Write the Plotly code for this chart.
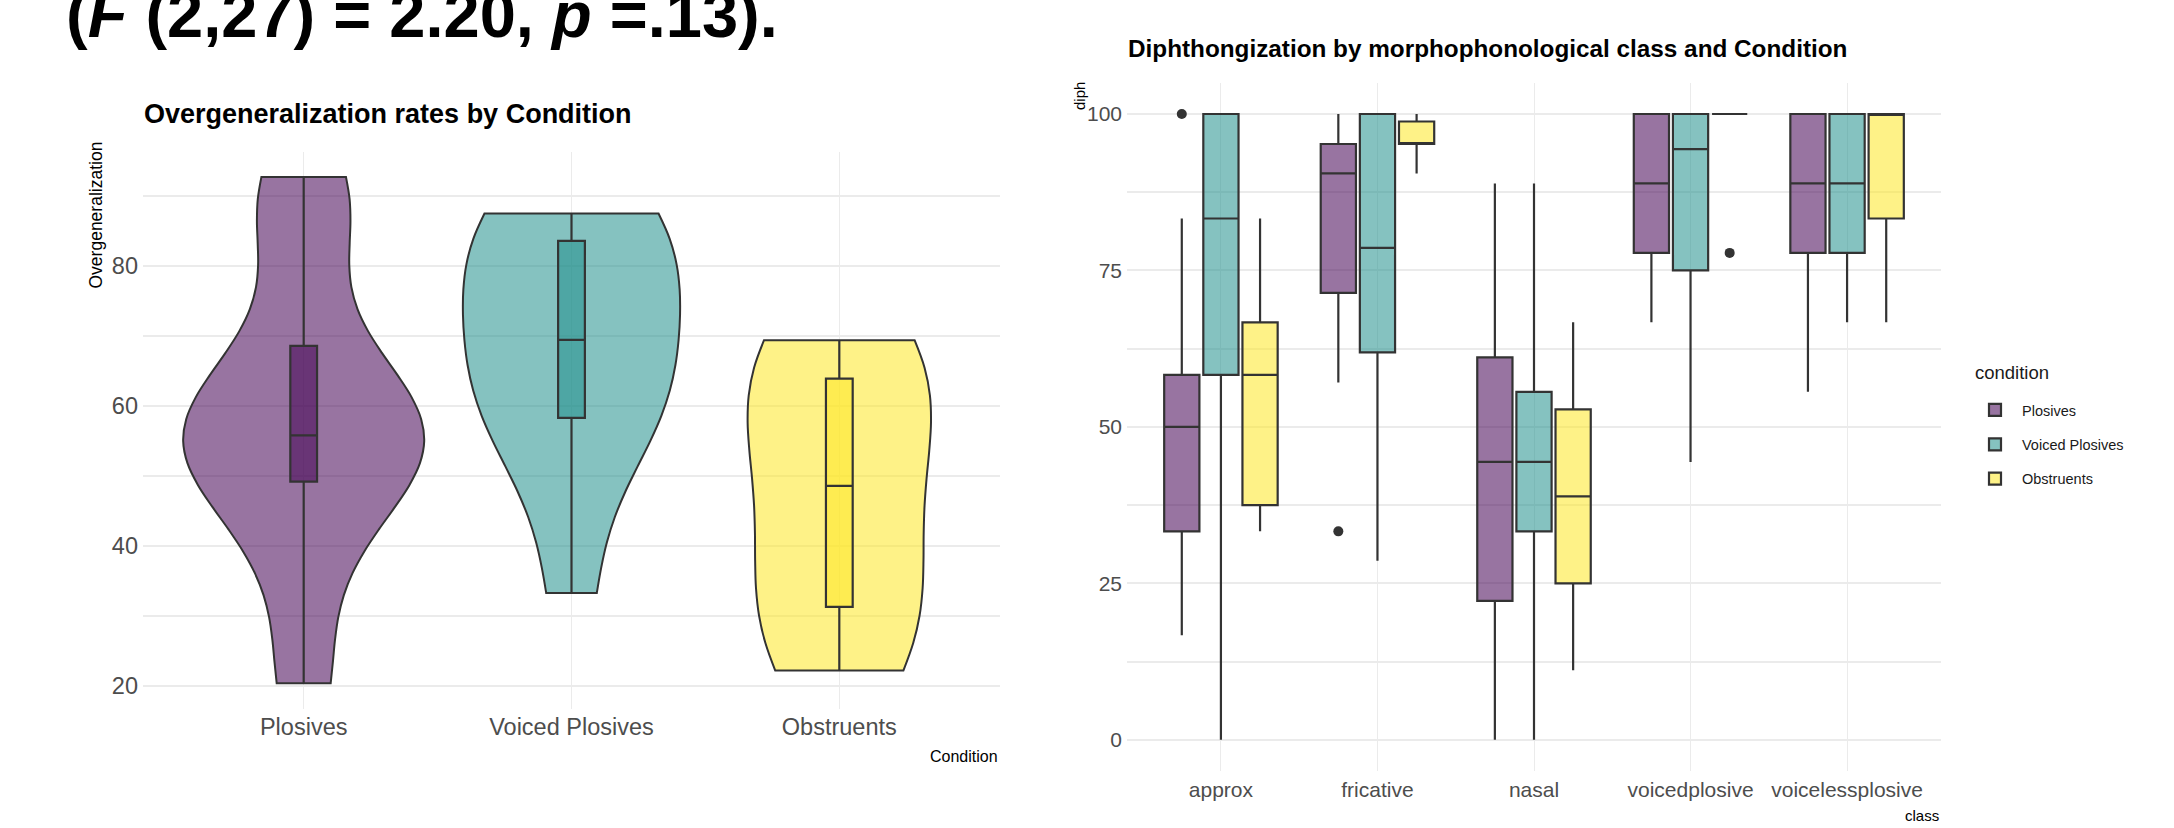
import numpy as np
import plotly.graph_objects as go

W, H = 2174, 828

# ---------------- data ----------------
heading_text = "(<i>F</i> (2,27) = 2.20, <i>p</i> =.13)."

# Left chart: overgeneralization (%) per participant, 10 per condition
conditions = ["Plosives", "Voiced Plosives", "Obstruents"]
overgen_plosives = [20.4, 38.9, 49.2, 52.8, 55.6, 56.0, 61.1, 68.6, 86.1, 92.7]
overgen_voiced = [33.3, 55.6, 58.3, 61.1, 66.7, 72.2, 80.6, 83.6, 86.1, 87.5]
overgen_obstruents = [22.2, 25.0, 31.3, 36.1, 44.4, 52.8, 58.3, 63.9, 68.1, 69.4]

# Right chart: diphthongization box statistics by class and condition
classes = ["approx", "fricative", "nasal", "voicedplosive", "voicelessplosive"]

plos_q1 = [33.3, 71.4, 22.2, 77.8, 77.8]
plos_med = [50.0, 90.5, 44.4, 88.9, 88.9]
plos_q3 = [58.3, 95.2, 61.1, 100.0, 100.0]
plos_lo = [16.7, 57.1, 0.0, 66.7, 55.6]
plos_hi = [83.3, 100.0, 88.9, 100.0, 100.0]
plos_out = [[100.0], [33.3], [], [], []]

voic_q1 = [58.3, 61.9, 33.3, 75.0, 77.8]
voic_med = [83.3, 78.6, 44.4, 94.4, 88.9]
voic_q3 = [100.0, 100.0, 55.6, 100.0, 100.0]
voic_lo = [0.0, 28.6, 0.0, 44.4, 66.7]
voic_hi = [100.0, 100.0, 88.9, 100.0, 100.0]
voic_out = [[], [], [], [], []]

obst_q1 = [37.5, 95.2, 25.0, 100.0, 83.3]
obst_med = [58.3, 95.2, 38.9, 100.0, 100.0]
obst_q3 = [66.7, 98.8, 52.8, 100.0, 100.0]
obst_lo = [33.3, 90.5, 11.1, 100.0, 66.7]
obst_hi = [83.3, 100.0, 66.7, 100.0, 100.0]
obst_out = [[], [], [], [77.8], []]

# ---------------- styles ----------------
FONT = "Liberation Sans, Arial, sans-serif"
fills = ["rgba(68,1,84,0.55)", "rgba(33,144,140,0.55)", "rgba(253,231,37,0.55)"]
EDGE = "#333333"
GRID = "#EBEBEB"
TICK = "#4D4D4D"


def px(x):
    return x / W


def py(y):
    return 1 - y / H


fig = go.Figure()

# ---- left: violins with inner boxplots ----
overgen = [overgen_plosives, overgen_voiced, overgen_obstruents]
for cond, vals, fill in zip(conditions, overgen, fills):
    fig.add_trace(go.Violin(
        x=[cond] * len(vals), y=vals, name=cond, xaxis="x", yaxis="y",
        fillcolor=fill, line=dict(color=EDGE, width=2),
        spanmode="hard", scalemode="count", scalegroup="overgen",
        points=False, showlegend=False, hoverinfo="skip",
        box=dict(visible=True, width=0.111, fillcolor=fill,
                 line=dict(color=EDGE, width=2.2)),
        meanline=dict(visible=False),
    ))

# ---- right: grouped boxplots ----
box_sets = [
    ("Plosives", plos_q1, plos_med, plos_q3, plos_lo, plos_hi, plos_out),
    ("Voiced Plosives", voic_q1, voic_med, voic_q3, voic_lo, voic_hi, voic_out),
    ("Obstruents", obst_q1, obst_med, obst_q3, obst_lo, obst_hi, obst_out),
]
for (name, q1, med, q3, lo, hi, outl), fill in zip(box_sets, fills):
    # sample points per box: the whisker-end observations plus any outliers
    samples = [[l, h] + list(o) for l, h, o in zip(lo, hi, outl)]
    fig.add_trace(go.Box(
        x=classes, q1=q1, median=med, q3=q3, lowerfence=lo, upperfence=hi,
        y=samples, boxpoints="outliers", orientation="v",
        name=name, legendgroup=name, xaxis="x2", yaxis="y2",
        fillcolor=fill, line=dict(color=EDGE, width=2.2), whiskerwidth=0,
        marker=dict(color=EDGE, size=10, line=dict(width=0)),
        hoverinfo="skip",
    ))

# ---- axes ----
allv = np.concatenate([np.asarray(a) for a in overgen])
vmin, vmax = allv.min(), allv.max()
pad = 0.05 * (vmax - vmin)
left_range = [vmin - pad, vmax + pad]

base_x = dict(showline=False, zeroline=False, ticks="", showgrid=True,
              gridcolor=GRID, gridwidth=1.2,
              tickfont=dict(family=FONT, size=23.5, color=TICK))
base_y = dict(showline=False, zeroline=False, ticks="", showgrid=True,
              gridcolor=GRID, gridwidth=2, ticklabelstandoff=4,
              tickfont=dict(family=FONT, size=23.5, color=TICK))

fig.update_layout(
    width=W, height=H, autosize=False,
    margin=dict(l=0, r=0, t=0, b=0),
    paper_bgcolor="white", plot_bgcolor="white",
    font=dict(family=FONT, color="black"),
    violinmode="overlay", violingap=0.1, violingroupgap=0,
    boxmode="group", boxgap=0.25, boxgroupgap=0.1,
    xaxis=dict(base_x, domain=[px(143), px(1000)], anchor="y", type="category",
               categoryorder="array", categoryarray=conditions, range=[-0.6, 2.6],
               ticklabelstandoff=2),
    yaxis=dict(base_y, domain=[py(708.5), py(151.8)], anchor="x", range=left_range,
               tickvals=[20, 40, 60, 80],
               minor=dict(tickvals=[30, 50, 70, 90], showgrid=True,
                          gridcolor=GRID, gridwidth=1.5)),
    xaxis2=dict(base_x, domain=[px(1127), px(1941)], anchor="y2", type="category",
                categoryorder="array", categoryarray=classes, range=[-0.6, 4.6],
                tickfont=dict(family=FONT, size=21, color=TICK), ticklabelstandoff=4),
    yaxis2=dict(base_y, domain=[py(771), py(82.7)], anchor="x2", range=[-5, 105],
                tickvals=[0, 25, 50, 75, 100], tickfont=dict(family=FONT, size=21, color=TICK),
                minor=dict(tickvals=[12.5, 37.5, 62.5, 87.5], showgrid=True,
                           gridcolor=GRID, gridwidth=1.5)),
    legend=dict(x=px(1968), y=py(394), xanchor="left", yanchor="top",
                font=dict(family=FONT, size=14.5, color="#1A1A1A"),
                itemwidth=44, tracegroupgap=12.5, bgcolor="rgba(0,0,0,0)"),
)

ann = [
    dict(text="<b>" + heading_text + "</b>", x=px(64), y=py(53.5), xanchor="left", yanchor="bottom",
         font=dict(family=FONT, size=65, color="black")),
    dict(text="<b>Overgeneralization rates by Condition</b>", x=px(142), y=py(114),
         xanchor="left", yanchor="middle", font=dict(family=FONT, size=27, color="black")),
    dict(text="<b>Diphthongization by morphophonological class and Condition</b>", x=px(1126), y=py(48.5),
         xanchor="left", yanchor="middle", font=dict(family=FONT, size=24.3, color="black")),
    dict(text="Overgeneralization", textangle=-90, x=px(96), y=py(140), xanchor="center", yanchor="top",
         font=dict(family=FONT, size=17.5, color="black")),
    dict(text="Condition", x=px(1000), y=py(756), xanchor="right", yanchor="middle",
         font=dict(family=FONT, size=16, color="black")),
    dict(text="diph", textangle=-90, x=px(1080), y=py(80), xanchor="center", yanchor="top",
         font=dict(family=FONT, size=15, color="black")),
    dict(text="class", x=px(1941), y=py(815), xanchor="right", yanchor="middle",
         font=dict(family=FONT, size=15, color="black")),
    dict(text="condition", x=px(1973), y=py(372), xanchor="left", yanchor="middle",
         font=dict(family=FONT, size=18.5, color="#1A1A1A")),
]
for a in ann:
    a.update(xref="paper", yref="paper", showarrow=False)
fig.update_layout(annotations=ann)

fig.write_html("out.html", config={"displayModeBar": False},
               post_script="document.body.style.margin='0';")
